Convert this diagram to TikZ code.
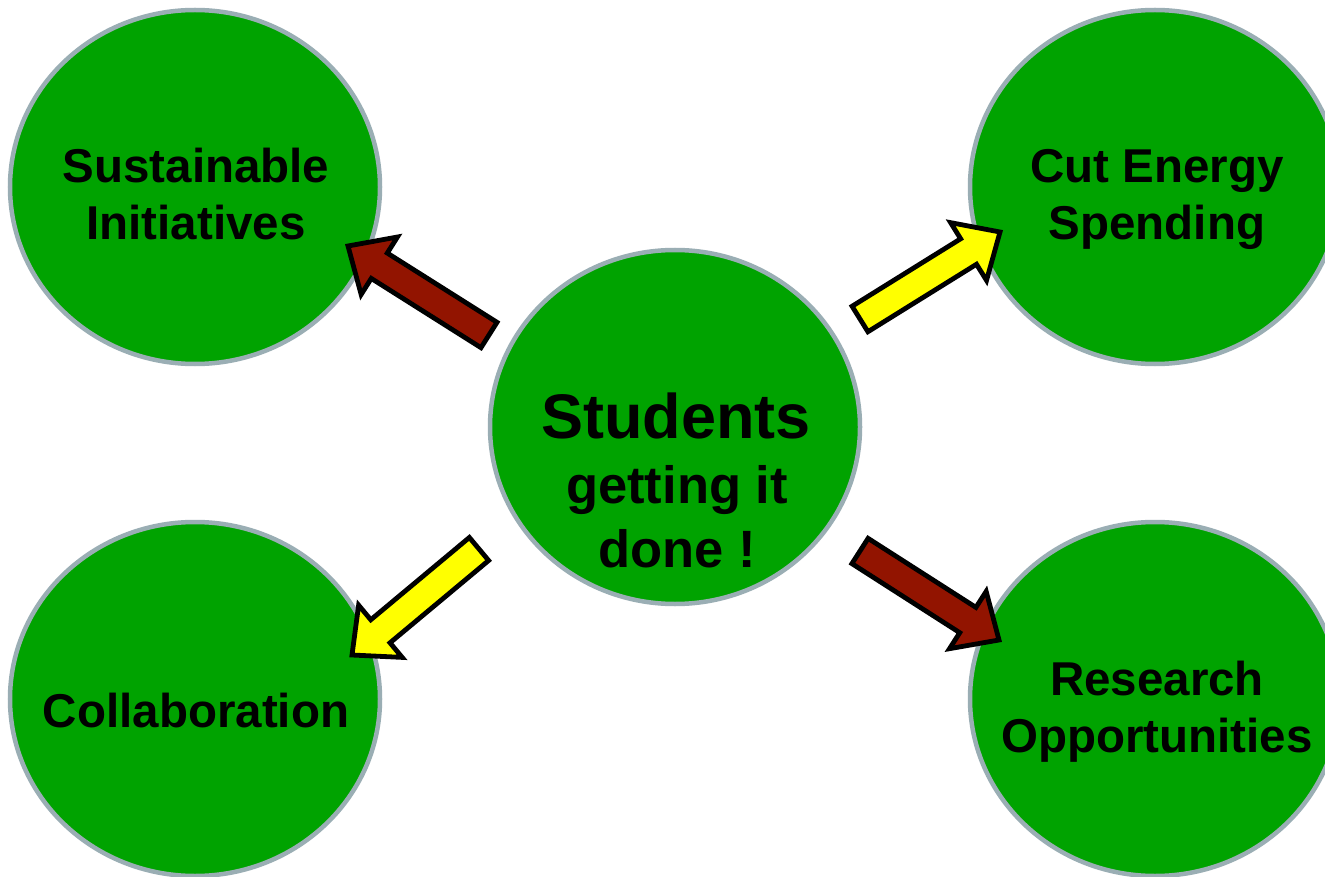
\documentclass[tikz,border=0pt]{standalone}
\usepackage{fontspec}
\setmainfont{Liberation Sans}
\usetikzlibrary{shapes.geometric,calc}
\definecolor{bubblegreen}{HTML}{00A300}
\definecolor{bubbleedge}{HTML}{9AAEB4}
\definecolor{arrowred}{HTML}{921400}
\definecolor{arrowyellow}{HTML}{FFFF00}
\tikzset{
  bubble/.style={ellipse, draw=bubbleedge, fill=bubblegreen, line width=4.5pt,
    minimum width=370pt, minimum height=354pt, inner sep=0pt},
  lbl/.style={anchor=base, inner sep=0pt, font=\fontsize{47.5}{57}\selectfont\bfseries},
  biglbl/.style={anchor=base, inner sep=0pt, font=\fontsize{63}{70}\selectfont\bfseries},
  midlbl/.style={anchor=base, inner sep=0pt, font=\fontsize{52.5}{60}\selectfont\bfseries},
  arrowline/.style={draw=black, line width=4.8pt, line join=miter},
}
\newcommand\blockarrow[3]{%
  \coordinate (ba-b) at ($(#2)!37pt!(#1)$);
  \draw[arrowline, fill=#3] ($(#1)!15pt!90:(#2)$) -- ($(ba-b)!15pt!90:(#2)$)
    -- ($(ba-b)!34pt!90:(#2)$) -- (#2) -- ($(ba-b)!34pt!-90:(#2)$)
    -- ($(ba-b)!15pt!-90:(#2)$) -- ($(#1)!15pt!-90:(#2)$) -- cycle;}
\begin{document}
\begin{tikzpicture}[x=1pt, y=-1pt]
  \useasboundingbox (0,0) rectangle (1325,877);
  \clip (0,0) rectangle (1325,877);
  \fill[white] (0,0) rectangle (1325,877);
  % bubbles
  \node[bubble] (sus) at (195,187) {};
  \node[bubble] (cut) at (1155,187) {};
  \node[bubble] (col) at (195,699) {};
  \node[bubble] (res) at (1155,699) {};
  \node[bubble] (stu) at (675,427) {};
  % labels
  \node[lbl] (sus1) at (196,183) {Sustainable};
  \node[lbl] (sus2) at (196,240) {Initiatives};
  \node[lbl] (cut1) at (1157,183) {Cut Energy};
  \node[lbl] (cut2) at (1157,240) {Spending};
  \node[lbl] (col1) at (196,727) {Collaboration};
  \node[lbl] (res1) at (1157,695) {Research};
  \node[lbl] (res2) at (1157,752) {Opportunities};
  \node[biglbl] (stu1) at (676,438) {Students};
  \node[midlbl] (stu2) at (677,503) {getting it};
  \node[midlbl] (stu3) at (677,567) {done !};
  % arrow ends
  \coordinate (a1t) at (489,335); \coordinate (a1h) at (348,246);
  \coordinate (a2t) at (860,319); \coordinate (a2h) at (1000,232);
  \coordinate (a3t) at (479,549); \coordinate (a3h) at (352,655);
  \coordinate (a4t) at (860,551); \coordinate (a4h) at (999,640);
  \blockarrow{a1t}{a1h}{arrowred}
  \blockarrow{a2t}{a2h}{arrowyellow}
  \blockarrow{a3t}{a3h}{arrowyellow}
  \blockarrow{a4t}{a4h}{arrowred}
\end{tikzpicture}
\end{document}
